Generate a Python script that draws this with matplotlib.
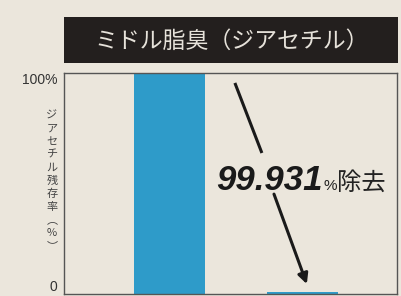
import numpy as np
import matplotlib
matplotlib.use("Agg")
import matplotlib.pyplot as plt
from matplotlib.patches import Rectangle

plt.rcParams['font.family'] = ['Noto Sans CJK JP', 'DejaVu Sans']

title = "ミドル脂臭（ジアセチル）"
ylabel = "ジアセチル残存率︵%︶"
categories = ["before", "after"]
values = [100.0, 1.0]          # remaining diacetyl (%) as drawn
yticks = [0, 100]
ytick_labels = ["0", "100%"]
removed = "99.931"

bg = "#ebe6dc"
blue = "#2e9bc9"

fig = plt.figure(figsize=(4.01, 2.96), dpi=100)
fig.patch.set_facecolor(bg)

# title box
fig.patches.append(Rectangle((64 / 401, 1 - 63 / 296), 334 / 401, 46 / 296,
                             transform=fig.transFigure, facecolor="#231f1e",
                             edgecolor="none"))
fig.text(232 / 401, 1 - 41 / 296, title, color="#e6e2da", fontsize=16.5,
         ha="center", va="center")

ax = fig.add_axes([64 / 401, 2 / 296, 333 / 401, 221 / 296])
ax.set_facecolor(bg)
x = np.arange(len(categories))
ax.bar(x, values, width=0.534, color=blue)
ax.set_xlim(-0.793, 1.711)
ax.set_ylim(0, 100)
ax.set_xticks([])
ax.set_yticks(yticks)
ax.set_yticklabels(ytick_labels, fontsize=10, color="#333333",
                   family=["Liberation Sans"])
ax.tick_params(axis="y", length=0, pad=5)
labs = ax.get_yticklabels()
labs[0].set_verticalalignment("bottom")
labs[1].set_verticalalignment("top")
for s in ax.spines.values():
    s.set_color("#555555")
    s.set_linewidth(1)

# vertical y label
fig.text(52 / 401, 1 - 181 / 296, "\n".join(ylabel), fontsize=8,
         color="#444444", ha="center", va="center", linespacing=1.38)

# arrow split around the text
ax.plot([0.492, 0.695], [95.5, 63.8], color="#1a1a1a", lw=2.2,
        solid_capstyle="butt")
ax.annotate("", xy=(1.033, 4.5), xytext=(0.786, 45.2),
            arrowprops=dict(arrowstyle="-|>,head_length=0.6,head_width=0.3",
                            color="#1a1a1a", lw=2.2, shrinkA=0, shrinkB=0))

t = ax.text(0.355, 47.0, removed, fontsize=25, fontweight="bold",
            fontstyle="italic", family=["Liberation Sans"], color="#1a1a1a",
            ha="left", va="baseline")
fig.canvas.draw()
bb = t.get_window_extent()
t2 = fig.text(bb.x1 / fig.bbox.width + 0.002, 106 / 296, "%", fontsize=11,
              color="#222222", ha="left", va="baseline",
              family=["Liberation Sans"])
fig.canvas.draw()
bb2 = t2.get_window_extent()
fig.text(bb2.x1 / fig.bbox.width, 106 / 296, "除去", fontsize=17.5,
         color="#222222", ha="left", va="baseline")

fig.savefig("out.png", dpi=100, facecolor=bg)
